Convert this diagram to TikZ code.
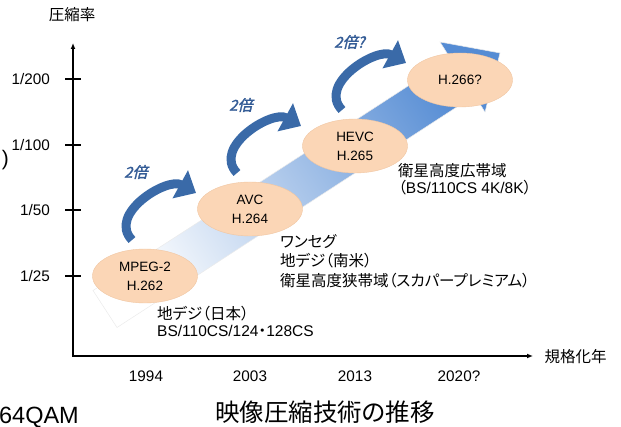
\documentclass[tikz,border=0pt]{standalone}
\usepackage{fontspec}
\setmainfont{Liberation Sans}
\newfontfamily\jp{Noto Sans CJK JP}[RawFeature=+palt]
\newfontfamily\jpslant{Noto Sans CJK JP}[FakeSlant=0.25,FakeBold=2]
\usetikzlibrary{shapes.geometric}
\usetikzlibrary{arrows.meta}
\usetikzlibrary{positioning}
\definecolor{peach}{RGB}{251,214,182}
\definecolor{peachline}{RGB}{240,198,162}
\definecolor{bandblue}{RGB}{85,140,212}
\definecolor{curveblue}{RGB}{58,106,168}
\definecolor{labelblue}{RGB}{52,92,150}
\tikzstyle{codec}=[ellipse,fill=peach,draw=peachline,line width=0.4pt,minimum width=105pt,minimum height=54pt,inner sep=0pt,align=center,font=\fontsize{13.5}{19}\selectfont]
\tikzstyle{axisline}=[draw,line width=1.6pt]
\tikzstyle{ticklabel}=[anchor=east,inner sep=0pt,font=\fontsize{15.3}{17}\selectfont]
\tikzstyle{yearlabel}=[inner sep=0pt,font=\fontsize{15.3}{17}\selectfont]
\tikzstyle{usage}=[anchor=north west,inner sep=0pt,align=left,font=\fontsize{15.5}{17}\selectfont]
\tikzstyle{jump}=[draw=curveblue,line width=9pt,-{Triangle[length=18pt,width=31pt]}]
\tikzstyle{jumplabel}=[anchor=west,inner sep=0pt,text=labelblue,font=\jpslant\fontsize{15}{17}\selectfont]

\begin{document}
\begin{tikzpicture}[x=1pt,y=-1pt]
    \useasboundingbox (0,0) rectangle (621,427);
    % Axes with ticks
    \coordinate (o) at (73,356);
    \coordinate (ytop) at (73,43);
    \coordinate (xend) at (533,356);
    \draw[axisline,{Latex[length=6pt,width=5pt]}-{Latex[length=6pt,width=5pt]}] (ytop) -- (o) -- (xend);
    \foreach \y/\rate in {79/200, 145/100, 210/50, 276/25}
    {
        \draw[axisline] (65,\y) -- (81,\y);
        \node[ticklabel] (r\rate) at (50,\y) {1/\rate};
    }
    \foreach \x/\yr in {146/1994, 250/2003, 355/2013, 459/2020?}
        \node[yearlabel] (y\x) at (\x,376) {\yr};
    \node[font=\jp\fontsize{15.5}{17}\selectfont] (ratetitle) at (72,15) {圧縮率};
    \node[anchor=west,font=\jp\fontsize{15.5}{17}\selectfont] (yeartitle) at (541,357) {規格化年};

    % The wide arrow behind the codecs
    \shade[left color=white, right color=bandblue, shading angle=123, draw=black!8, line width=0.5pt]
        (93,290.5) -- (450.5,58.5) -- (440,42) -- (500,53) -- (485,112) -- (474.5,95.5) -- (117,327.5) -- cycle;

    % Codecs
    \foreach \pos/\name/\label in {{(145,276)/mpeg/MPEG-2\\H.262}, {(250,209)/avc/AVC\\H.264}, {(355,146)/hevc/HEVC\\H.265}, {(460,80)/vvc/H.266?}}
        \node[codec] (\name) at \pos {\label};

    % Jumps between codecs
    \foreach \name/\gain in {mpeg/2倍, avc/2倍, hevc/2倍?}
    {
        \begin{scope}[shift={(\name.center)}]
            \coordinate (\name-from) at (-13,-36);
            \coordinate (\name-to) at (51,-83);
            \draw[jump] (\name-from) .. controls (-38,-62) and (22,-99) .. (\name-to);
            \node[jumplabel] (\name-gain) at (-21,-104) {\gain};
        \end{scope}
    }

    % Services
    \node[usage] (japan) at (157,306) {{\jp 地デジ（日本）}\\BS/110CS/124{\jp ・}128CS};
    \node[usage,font=\jp\fontsize{15.5}{19.5}\selectfont] (oneseg) at (280,234) {ワンセグ\\地デジ（南米）\\衛星高度狭帯域（スカパープレミアム）};
    \node[usage] (uhd) at (398,163) {{\jp 衛星高度広帯域}\\{\jp （}BS/110CS 4K/8K{\jp ）}};

    % Slide text
    \node[font=\jp\fontsize{24.5}{28}\selectfont] (title) at (325,412) {映像圧縮技術の推移};
    \node[anchor=base east,inner sep=0pt,font=\fontsize{23.5}{27}\selectfont] (qam) at (79,423) {64QAM};
    \node[anchor=base east,inner sep=0pt,font=\fontsize{21}{24}\selectfont] (paren) at (9,166) {)};
\end{tikzpicture}
\end{document}
